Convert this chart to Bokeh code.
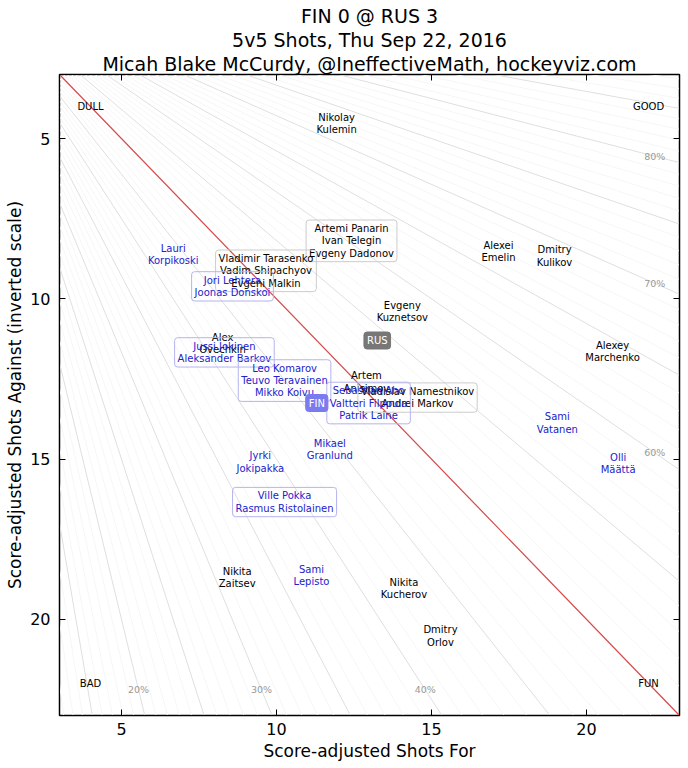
from bokeh.plotting import figure
from bokeh.models import Range1d, FixedTicker, LinearAxis, Title, ColumnDataSource
from bokeh.core.properties import value
from bokeh.embed import file_html
from bokeh.resources import INLINE

FONT = "DejaVu Sans"

# Russia: individual skaters (score-adjusted shots for / against, per 60)
rus_players = ["Nikolay Kulemin", "Alexei Emelin", "Dmitry Kulikov", "Evgeny Kuznetsov",
               "Alex Ovechkin", "Alexey Marchenko", "Artem Anisimov", "Nikita Zaitsev",
               "Nikita Kucherov", "Dmitry Orlov"]
rus_sf = [11.94, 17.16, 18.97, 14.06, 8.26, 20.84, 12.90, 8.73, 14.11, 15.29]
rus_sa = [4.52, 8.53, 8.66, 10.39, 11.39, 11.64, 12.59, 18.70, 19.03, 20.52]

# Russia: players sharing identical numbers
rus_groups = [["Artemi Panarin", "Ivan Telegin", "Evgeny Dadonov"],
              ["Vladimir Tarasenko", "Vadim Shipachyov", "Evgeni Malkin"],
              ["Vladislav Namestnikov", "Andrei Markov"]]
rus_group_sf = [12.42, 9.66, 14.55]
rus_group_sa = [8.19, 9.125, 13.08]

# Finland: individual skaters
fin_players = ["Lauri Korpikoski", "Sami Vatanen", "Olli Määttä", "Mikael Granlund",
               "Jyrki Jokipakka", "Sami Lepisto"]
fin_sf = [6.67, 19.06, 21.02, 11.72, 9.48, 11.13]
fin_sa = [8.625, 13.87, 15.14, 14.71, 15.09, 18.64]

# Finland: players sharing identical numbers
fin_groups = [["Jori Lehtera", "Joonas Donskoi"],
              ["Jussi Jokinen", "Aleksander Barkov"],
              ["Leo Komarov", "Teuvo Teravainen", "Mikko Koivu"],
              ["Sebastian Aho", "Valtteri Filppula", "Patrik Laine"],
              ["Ville Pokka", "Rasmus Ristolainen"]]
fin_group_sf = [8.58, 8.32, 10.26, 12.97, 10.26]
fin_group_sa = [9.61, 11.67, 12.55, 13.25, 16.34]

# Team totals
teams = ["RUS", "FIN"]
team_sf = [13.25, 11.30]
team_sa = [11.30, 13.25]
team_colors = ["#777777", "#7b7bf0"]

# Quadrant captions
corner_text = ["DULL", "GOOD", "BAD", "FUN"]
corner_sf = [4, 22, 4, 22]
corner_sa = [4, 4, 22, 22]

# Shot-share guide lines (percent of shots for)
share_pcts = list(range(1, 100))
share_labels = [20, 30, 40, 60, 70, 80]

# Heading lines, top to bottom
heading = ["FIN 0 @ RUS 3",
           "5v5 Shots, Thu Sep 22, 2016",
           "Micah Blake McCurdy, @IneffectiveMath, hockeyviz.com"]

LO, HI = 3, 23
ticks = [5, 10, 15, 20]

p = figure(width=688, height=768, x_range=Range1d(LO, HI), y_range=Range1d(HI, LO),
           output_backend="svg", toolbar_location=None, title=None,
           min_border_left=59, min_border_right=9, min_border_top=74, min_border_bottom=53)
p.xgrid.visible = False
p.ygrid.visible = False
p.outline_line_color = "black"
p.outline_line_width = 1.5
p.background_fill_color = "white"
p.border_fill_color = "white"

for ax in (p.xaxis[0], p.yaxis[0]):
    ax.ticker = FixedTicker(ticks=ticks)
    ax.major_tick_in = 6
    ax.major_tick_out = 0
    ax.minor_tick_line_color = None
    ax.axis_line_color = "black"
    ax.major_tick_line_color = "black"
    ax.major_label_text_font = FONT
    ax.major_label_text_font_size = "16px"
    ax.major_label_text_color = "black"
    ax.axis_label_text_font = FONT
    ax.axis_label_text_font_size = "17px"
    ax.axis_label_text_font_style = "normal"
    ax.axis_label_text_color = "black"
p.xaxis[0].axis_label = "Score-adjusted Shots For"
p.yaxis[0].axis_label = "Score-adjusted Shots Against (inverted scale)"
p.xaxis[0].major_label_standoff = 7
p.yaxis[0].major_label_standoff = 9
p.xaxis[0].axis_label_standoff = 3
p.yaxis[0].axis_label_standoff = 2

# Mirror ticks on the top and right edges
for side in ("above", "right"):
    ax = LinearAxis(ticker=FixedTicker(ticks=ticks), major_tick_in=6, major_tick_out=0,
                    minor_tick_line_color=None, major_label_text_font_size="0px",
                    major_label_standoff=0, axis_line_color="black",
                    major_tick_line_color="black")
    p.add_layout(ax, side)

# Heading: titles stack outward, so add the bottom line first
for line in reversed(heading):
    p.add_layout(Title(text=line, align="center", text_font=FONT, text_font_size="19px",
                       text_font_style="normal", text_color="black",
                       standoff=0, offset=0), "above")

# Fan of constant shot-share lines through the origin
x0, y0, x1, y1, cols = [], [], [], [], []
R = 40.0
for pct in share_pcts:
    f = pct / 100.0
    r = (1 - f) / f  # against / for
    if r <= 1:
        xe, ye = R, R * r
    else:
        xe, ye = R / r, R
    x0.append(0); y0.append(0); x1.append(xe); y1.append(ye)
    cols.append("#dfdfdf" if pct % 5 == 0 else "#f6f6f6")
p.segment(x0=x0, y0=y0, x1=x1, y1=y1, line_color=cols, line_width=1)

# Break-even line
p.line(x=[LO, HI], y=[LO, HI], line_color="#d94a4a", line_width=1.2)

# Share percentage captions
pct_x, pct_y, pct_t = [], [], []
edge = 22.2
for pct in share_labels:
    f = pct / 100.0
    r = (1 - f) / f
    if r > 1:
        pct_x.append(edge / r); pct_y.append(edge)
    else:
        pct_x.append(edge); pct_y.append(edge * r)
    pct_t.append(f"{pct}%")
p.text(x=pct_x, y=pct_y, text=pct_t, text_font=value(FONT), text_font_size="9.5px",
       text_color="#999999", text_align="center", text_baseline="middle")

# Quadrant captions
p.text(x=corner_sf, y=corner_sa, text=corner_text, text_font=value(FONT),
       text_font_size="10px", text_color="black", text_align="center",
       text_baseline="middle")


def two_line(name):
    first, last = name.split(" ", 1)
    return first + "\n" + last


def draw_players(names, sf, sa, color):
    src = ColumnDataSource(dict(x=sf, y=sa, t=[two_line(n) for n in names]))
    p.text(x="x", y="y", text="t", source=src, text_font=value(FONT),
           text_font_size="10px", text_color=color, text_align="center",
           text_baseline="middle", text_line_height=1.12)


def draw_groups(groups, sf, sa, color, border):
    src = ColumnDataSource(dict(x=sf, y=sa, t=["\n".join(g) for g in groups]))
    p.text(x="x", y="y", text="t", source=src, text_font=value(FONT),
           text_font_size="10px", text_color=color, text_align="center",
           text_baseline="middle", text_line_height=1.12,
           background_fill_color=None,
           border_line_color=border, border_line_width=1, padding=3, border_radius=3)


RUS_C = "black"
FIN_C = "#2222cc"
draw_players(rus_players, rus_sf, rus_sa, RUS_C)
draw_groups(rus_groups, rus_group_sf, rus_group_sa, RUS_C, "#cccccc")
draw_players(fin_players, fin_sf, fin_sa, FIN_C)
draw_groups(fin_groups, fin_group_sf, fin_group_sa, FIN_C, "#b4b4f0")

# Team totals
tsrc = ColumnDataSource(dict(x=team_sf, y=team_sa, t=teams, c=team_colors))
p.text(x="x", y="y", text="t", source=tsrc, text_font=value(FONT), text_font_size="10px",
       text_color="white", text_align="center", text_baseline="middle",
       background_fill_color="c", border_line_color="c", padding=3, border_radius=3)

open("out.html", "w").write(file_html(p, INLINE))
